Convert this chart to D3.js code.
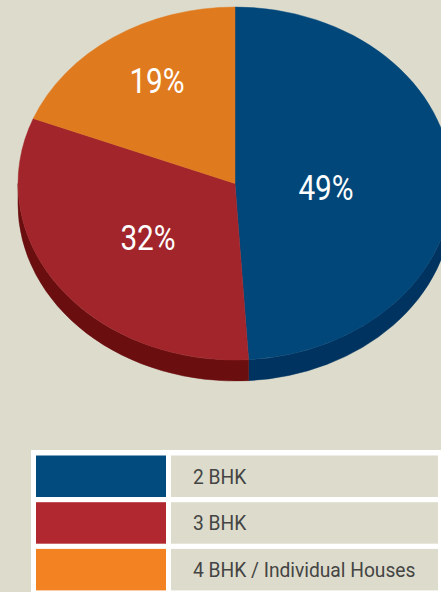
<!DOCTYPE html>
<html><head><meta charset="utf-8">
<script src="https://cdn.jsdelivr.net/npm/d3@7"></script>
<style>
html,body{margin:0;padding:0;background:#dddccc;}
svg{display:block;}
</style></head>
<body>
<svg id="chart" width="441" height="592"></svg>
<script>
const categories = ["2 BHK", "3 BHK", "4 BHK / Individual Houses"];
const values = [49, 32, 19];
const labels = ["49%", "32%", "19%"];
const topColors = ["#02477a", "#a2252b", "#e07a1e"];
const sideColors = ["#003360", "#6a0e10", "#9a4f10"];
const swatchColors = ["#024b7e", "#b12830", "#f38222"];

const svg = d3.select("#chart");
const W = 441, H = 592;
svg.append("rect").attr("width", W).attr("height", H).attr("fill", "#dddccc");

const cx = 235, cy = 183.5, rx = 217, ry = 176.5, depth = 21;
const FONT = "Roboto, 'Noto Sans', sans-serif";
const SX = 0.85, SXL = 0.96;

const pie = d3.pie().sort(null).value(d => d);
const arcs = pie(values);

const pt = (a, dy = 0) => [cx + Math.sin(a) * rx, cy - Math.cos(a) * ry + dy];

// side walls
const gSide = svg.append("g");
arcs.forEach((d, i) => {
  const s = Math.max(d.startAngle, Math.PI / 2);
  const e = Math.min(d.endAngle, 3 * Math.PI / 2);
  if (s >= e) return;
  const p0 = pt(s), p1 = pt(e), q1 = pt(e, depth), q0 = pt(s, depth);
  const path = `M${p0}A${rx},${ry} 0 0 1 ${p1}L${q1}A${rx},${ry} 0 0 0 ${q0}Z`;
  gSide.append("path").attr("d", path).attr("fill", sideColors[i])
    .attr("stroke", sideColors[i]).attr("stroke-width", 0.5);
});

// top face
const arc = d3.arc().innerRadius(0).outerRadius(rx);
const gTop = svg.append("g").attr("transform", `translate(${cx},${cy}) scale(1,${ry / rx})`);
gTop.selectAll("path").data(arcs).join("path")
  .attr("d", arc)
  .attr("fill", (d, i) => topColors[i])
  .attr("stroke", (d, i) => topColors[i])
  .attr("stroke-width", 0.5);

// labels
const labelPos = [[326, 187], [148, 237], [157, 80]];
svg.selectAll("g.lbl").data(arcs).join("g")
  .attr("class", "lbl")
  .attr("transform", (d, i) => `translate(${labelPos[i][0]},${labelPos[i][1]}) scale(${SX},1)`)
  .append("text")
  .attr("text-anchor", "middle")
  .attr("y", 12.5)
  .attr("fill", "#ffffff")
  .attr("font-family", FONT)
  .attr("font-size", 35)
  .text((d, i) => labels[i]);

// legend table
const lg = svg.append("g");
lg.append("rect").attr("x", 31).attr("y", 450).attr("width", 410).attr("height", 142).attr("fill", "#ffffff");
categories.forEach((c, i) => {
  const y = 455.5 + i * 46.7;
  const h = 41.5;
  lg.append("rect").attr("x", 36).attr("y", y).attr("width", 130).attr("height", h).attr("fill", swatchColors[i]);
  lg.append("rect").attr("x", 171).attr("y", y).attr("width", 267).attr("height", h).attr("fill", "#dddccc");
  lg.append("g").attr("transform", `translate(193,${y + h / 2 + 7.5}) scale(${SXL},1)`)
    .append("text")
    .attr("fill", "#444444").attr("font-family", FONT).attr("font-size", 20)
    .text(c);
});
</script>
</body></html>
